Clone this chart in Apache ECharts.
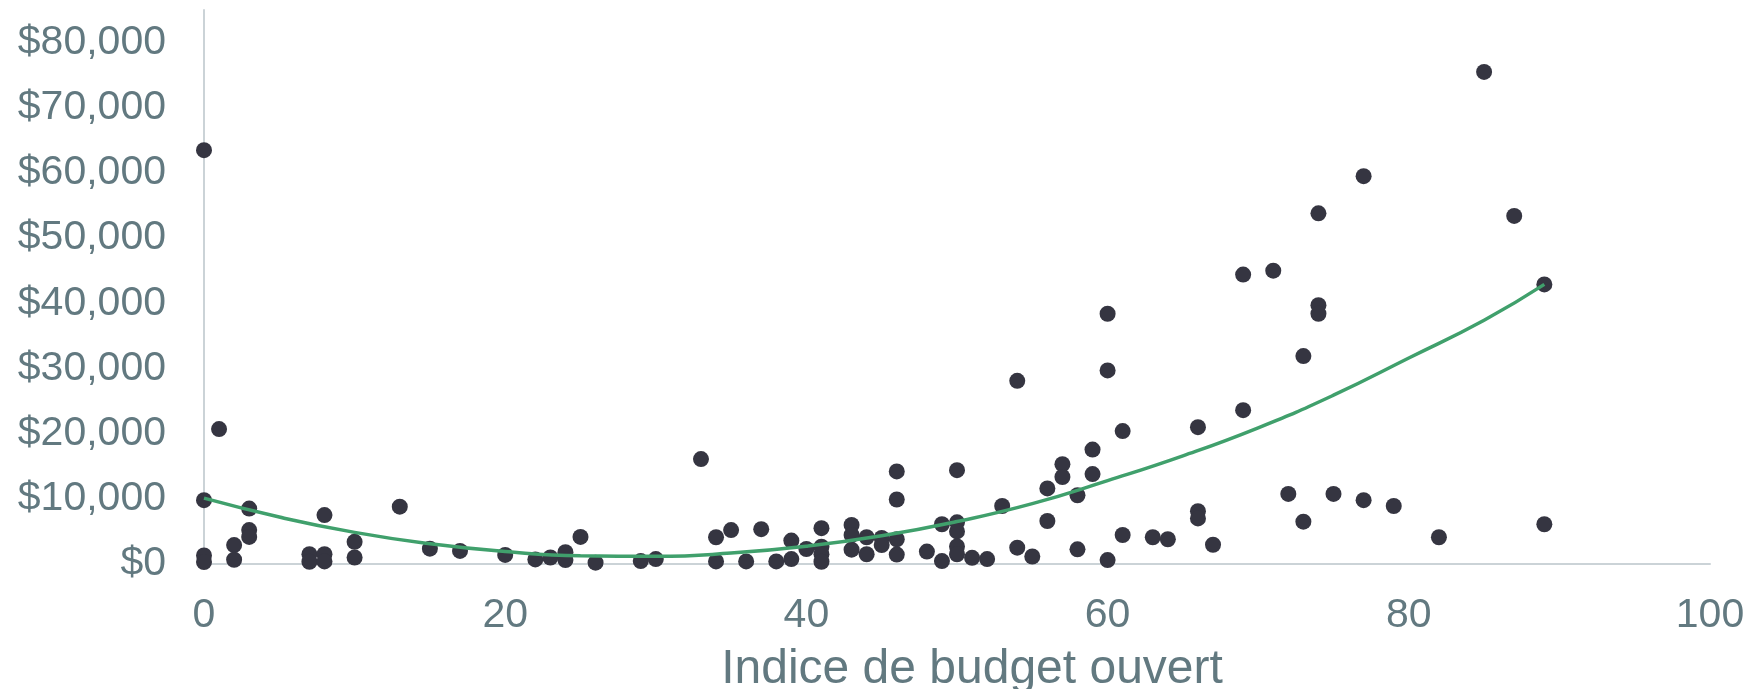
<!DOCTYPE html>
<html>
<head>
<meta charset="utf-8">
<script src="https://cdn.jsdelivr.net/npm/echarts@6/dist/echarts.min.js"></script>
<style>
  html, body { margin: 0; padding: 0; background: #fff; }
  #chart { width: 1750px; height: 689px; }
</style>
</head>
<body>
<div id="chart"></div>
<script>
// Indice de budget ouvert (x) vs montant (y), un point par pays
const scores = [
  0, 0, 0, 0, 1, 2, 2, 3, 3, 3, 7, 7, 8, 8, 8, 10, 10, 13, 15, 17, 20, 22, 23, 24, 24, 25, 26, 29, 30,
  33, 34, 34, 35, 36, 37, 38, 39, 39, 40, 41, 41, 41, 41, 43, 43, 43, 44, 44, 45, 45,
  46, 46, 46, 46, 48, 49, 49, 50, 50, 50, 50, 50, 51, 52, 53, 54, 54, 55, 56, 56, 57, 57,
  58, 58, 59, 59, 60, 60, 60, 61, 61, 63, 64, 66, 66, 66, 67, 69, 69, 71, 72, 73, 73,
  74, 74, 74, 75, 77, 77, 79, 82, 85, 87, 89, 89
]
const amounts = [
  63500, 9800, 1300, 300, 20700, 2900, 650, 8500, 5200, 4150, 1500, 350, 7500, 1500, 400, 3400, 1000, 8800, 2350, 2000, 1400, 700, 1000, 1800, 600, 4150, 200, 450, 750,
  16100, 4100, 400, 5200, 400, 5350, 400, 3600, 750, 2300, 5500, 2650, 1500, 350, 6000, 4450, 2200, 4100, 1500, 4000, 2900,
  14200, 9900, 3800, 1450, 1900, 6100, 450, 14400, 6400, 5000, 2700, 1500, 950, 750, 8900, 28100, 2500, 1150, 11600, 6600, 15300, 13350,
  10550, 2250, 17550, 13800, 38400, 29700, 600, 20400, 4450, 4100, 3800, 21000, 8100, 7000, 2950, 44400, 23600, 45000, 10750, 31900, 6500,
  53800, 39700, 38400, 10750, 59500, 9800, 8900, 4100, 75500, 53400, 42900, 6100
]

// courbe de tendance (polynomiale)
const trendX = [0, 5, 10, 15, 20, 25, 30, 35, 40, 45, 50, 55, 60, 65, 70, 75, 80, 85, 89]
const trendY = [10100, 7200, 4850, 3100, 1900, 1250, 1180, 1670, 2720, 4330, 6520, 9260, 12800, 16600, 20900, 25900, 31600, 37400, 42900]

const xTicks = [0, 20, 40, 60, 80, 100]

const font = 'Liberation Sans, Arial, sans-serif'
const labelColor = '#627980'
const axisColor = '#cbd3d7'

const chart = echarts.init(document.getElementById('chart'))

chart.setOption({
  animation: false,
  grid: { left: 204, right: 40, top: 10, bottom: 125, outerBoundsMode: 'none' },
  xAxis: {
    type: 'value',
    min: xTicks[0],
    max: xTicks[xTicks.length - 1],
    interval: 20,
    name: 'Indice de budget ouvert',
    nameLocation: 'middle',
    nameGap: 82,
    nameTextStyle: { color: labelColor, fontSize: 48, fontFamily: font, padding: [0, 0, 0, 30] },
    axisLine: { show: true, onZero: false, lineStyle: { color: axisColor, width: 2 } },
    axisTick: { show: false },
    splitLine: { show: false },
    axisLabel: { color: labelColor, fontSize: 41, fontFamily: font, margin: 31 }
  },
  yAxis: {
    type: 'value',
    min: 0,
    max: 85000,
    interval: 10000,
    axisLine: { show: true, lineStyle: { color: axisColor, width: 2 } },
    axisTick: { show: false },
    splitLine: { show: false },
    axisLabel: {
      color: labelColor,
      fontSize: 41,
      fontFamily: font,
      margin: 38,
      showMaxLabel: false,
      formatter: v => '$' + v.toLocaleString('en-US')
    }
  },
  series: [{
    type: 'scatter',
    data: scores.map((s, i) => [s, amounts[i]]),
    symbolSize: 16,
    itemStyle: { color: '#353541', opacity: 1 },
    z: 2
  }, {
    type: 'line',
    data: trendX.map((x, i) => [x, trendY[i]]),
    smooth: true,
    showSymbol: false,
    lineStyle: { color: '#40a06c', width: 3.5 },
    z: 3
  }]
})
</script>
</body>
</html>
